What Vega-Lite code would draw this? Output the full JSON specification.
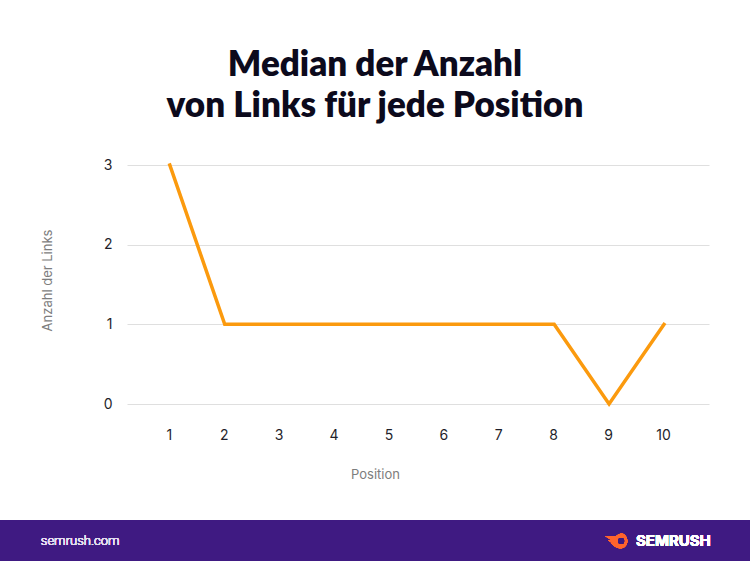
{
"$schema":"https://vega.github.io/schema/vega-lite/v6.json",
"width":582,"height":239,
"autosize":"none",
"padding":{"left":127,"top":165,"right":41,"bottom":157},
"background":"#ffffff",
"title":{"text":["Median der Anzahl","von Links für jede Position"],"anchor":"middle","frame":"group","dx":-43,"offset":34,"font":"Lato","fontSize":35,"fontWeight":800,"color":"#0c0a1c","lineHeight":41},
"config":{"view":{"stroke":null},"font":"Inter"},
"data":{"values":[
{"Position":1,"Links":3},{"Position":2,"Links":1},{"Position":3,"Links":1},{"Position":4,"Links":1},{"Position":5,"Links":1},{"Position":6,"Links":1},{"Position":7,"Links":1},{"Position":8,"Links":1},{"Position":9,"Links":0},{"Position":10,"Links":1}]},
"layer":[
{"mark":{"type":"line","color":"#fb9a0e","strokeWidth":3.5,"strokeCap":"square","strokeJoin":"miter","clip":false},
"encoding":{
"x":{"field":"Position","type":"quantitative","scale":{"domain":[0.22,10.82],"nice":false,"zero":false},
"axis":{"values":[1,2,3,4,5,6,7,8,9,10],"format":"d","title":"Position","grid":false,"domain":false,"ticks":false,"labelFontSize":14,"labelColor":"#1f1f2b","labelPadding":24,"labelOffset":-1,"titleFontSize":13,"titleFontWeight":400,"titleColor":"#7d7d7d","titleX":248,"titleY":64}},
"y":{"field":"Links","type":"quantitative","scale":{"domain":[0,3],"nice":false},
"axis":{"values":[0,1,2,3],"format":"d","title":"Anzahl der Links","grid":true,"gridColor":"#dfdfdf","gridWidth":1.2,"domain":false,"ticks":false,"labelFontSize":14,"labelColor":"#1f1f2b","labelPadding":15,"titleFontSize":13,"titleFontWeight":400,"titleColor":"#7d7d7d","titleX":-73,"titleY":115}}}},
{"mark":{"type":"rect","color":"#3f1a82","clip":false},
"encoding":{"x":{"datum":-2.1,"type":"quantitative"},"x2":{"datum":11.7},"y":{"datum":-1.456,"type":"quantitative"},"y2":{"datum":-2.0}}},
{"mark":{"type":"text","align":"left","baseline":"middle","color":"#e4def0","fontSize":13,"font":"Roboto","fontWeight":300},
"encoding":{"x":{"datum":-1.35,"type":"quantitative"},"y":{"datum":-1.72,"type":"quantitative"},"text":{"value":"semrush.com"}}},
{"mark":{"type":"text","align":"left","baseline":"middle","color":"#ffffff","fontSize":15,"fontWeight":700,"font":"Inter"},
"encoding":{"x":{"datum":9.49,"type":"quantitative"},"y":{"datum":-1.72,"type":"quantitative"},"text":{"value":"SEMRUSH"}}},
{"mark":{"type":"point","filled":true,"color":"#ff642d","opacity":1,"size":500,"shape":"M-1 -0.45 L0 -0.45 C0.25 -0.7 0.55 -0.75 0.7 -0.6 C0.95 -0.4 1 -0.1 1 0 C1 0.4 0.7 0.65 0.4 0.65 C0 0.65 -0.3 0.35 -0.5 0.15 L-0.3 0.15 L-0.75 -0.05 L-0.45 -0.1 Z"},
"encoding":{"x":{"datum":9.13,"type":"quantitative"},"y":{"datum":-1.72,"type":"quantitative"}}},
{"mark":{"type":"point","filled":true,"color":"#3f1a82","opacity":1,"size":36,"shape":"circle"},
"encoding":{"x":{"datum":9.22,"type":"quantitative"},"y":{"datum":-1.72,"type":"quantitative"}}}
]}
